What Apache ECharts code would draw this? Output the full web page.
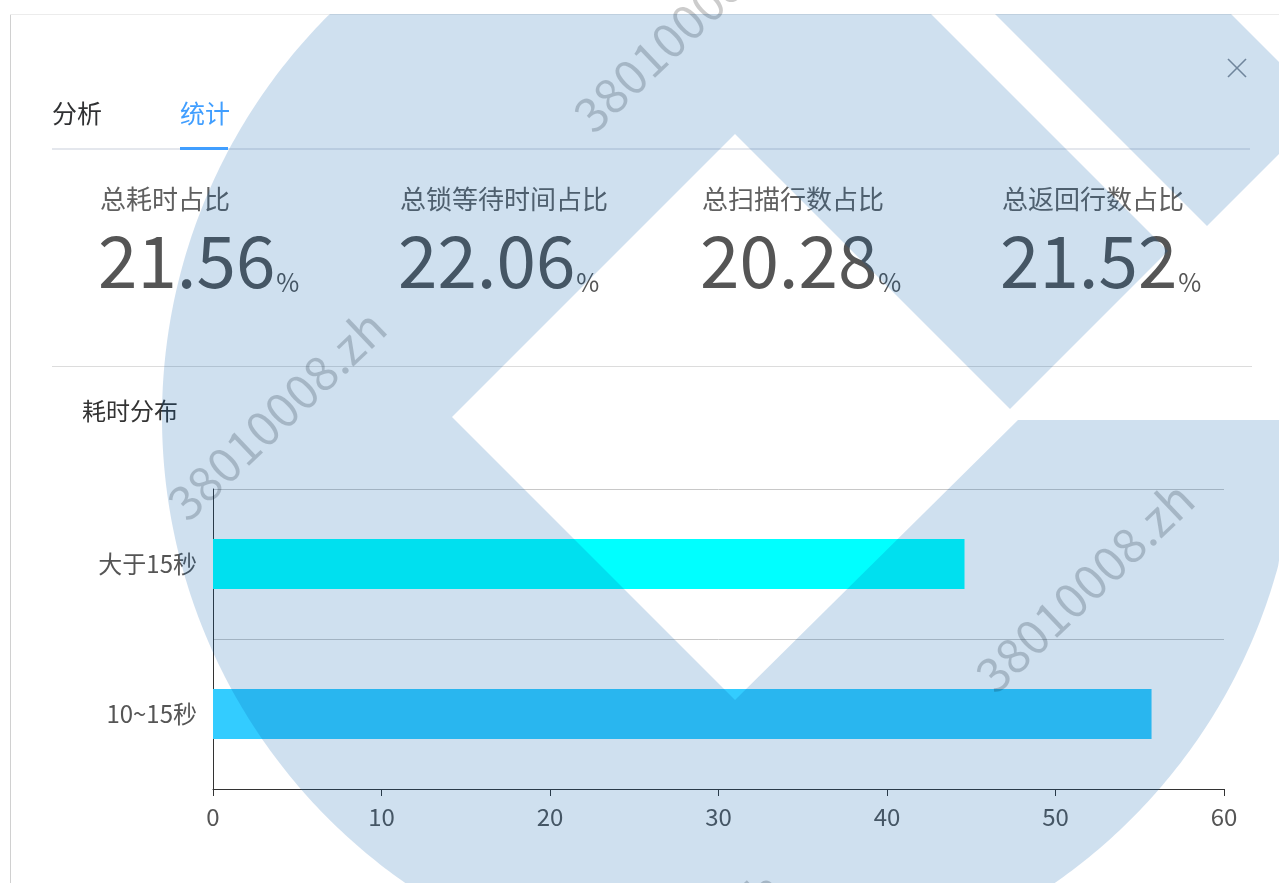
<!DOCTYPE html>
<html><head><meta charset="utf-8">
<script src="https://cdn.jsdelivr.net/npm/echarts@6/dist/echarts.min.js"></script>
<style>html,body{margin:0;padding:0;background:#fff;overflow:hidden}#c{width:1279px;height:883px;}</style>
</head><body><div id="c"></div>
<script>
// ---- data ----
const categories = ['10~15秒', '大于15秒'];
const values = [55.7, 44.6];
const barColors = ['#33ccff', '#00ffff'];
const tabs = ['分析', '统计'];
const statTitles = ['总耗时占比', '总锁等待时间占比', '总扫描行数占比', '总返回行数占比'];
const statValues = ['21.56', '22.06', '20.28', '21.52'];
const statUnit = '%';
const chartTitle = '耗时分布';
const xMin = 0, xMax = 60, xStep = 10;
const watermarkText = '38010008.zh';

// ---- layout / style ----
const CJK = '"Noto Sans CJK SC", "Noto Sans", sans-serif';
const statX = [100, 400, 702, 1002];
const NUM_SIZE = 71, UNIT_SIZE = 25;
const ctx = document.createElement('canvas').getContext('2d');
function measure(t, size) { ctx.font = 'normal normal ' + size + 'px ' + CJK; return ctx.measureText(t).width; }

const g = [];
// dialog edges
g.push({type:'rect', shape:{x:10, y:14, width:1, height:869}, style:{fill:'#d0d0d0'}, silent:true});
g.push({type:'rect', shape:{x:10, y:14, width:1269, height:1}, style:{fill:'#ececec'}, silent:true});
// tabs
const tabX = [52, 180];
tabs.forEach((t, i) => g.push({type:'text', x:tabX[i], y:113, style:{text:t, fontSize:25, fontFamily:CJK, fill: i===1 ? '#409eff' : '#303133', align:'left', verticalAlign:'middle'}}));
g.push({type:'rect', shape:{x:52, y:148, width:1198, height:2}, style:{fill:'#e4e7ed'}});
g.push({type:'rect', shape:{x:180, y:147, width:48, height:3}, style:{fill:'#409eff'}});
// close icon
g.push({type:'line', shape:{x1:1228, y1:59, x2:1246, y2:77}, style:{stroke:'#8a8f99', lineWidth:1.6}});
g.push({type:'line', shape:{x1:1246, y1:59, x2:1228, y2:77}, style:{stroke:'#8a8f99', lineWidth:1.6}});
// stats
statTitles.forEach((t, i) => {
  g.push({type:'text', x:statX[i], y:199, style:{text:t, fontSize:26, fontFamily:CJK, fill:'#606060', align:'left', verticalAlign:'middle'}});
  g.push({type:'text', x:statX[i] - 2, y:261, style:{text:statValues[i], fontSize:NUM_SIZE, fontFamily:CJK, fill:'#555', align:'left', verticalAlign:'middle'}});
  const w = measure(statValues[i], NUM_SIZE);
  g.push({type:'text', x:statX[i] - 2 + w + 1, y:282, style:{text:statUnit, fontSize:UNIT_SIZE, fontFamily:CJK, fill:'#555', align:'left', verticalAlign:'middle'}});
});
g.push({type:'rect', shape:{x:52, y:366, width:1200, height:1}, style:{fill:'#dcdcdc'}});
g.push({type:'text', x:82, y:411, style:{text:chartTitle, fontSize:24, fontFamily:CJK, fill:'#333', align:'left', verticalAlign:'middle'}});

// watermark text (decoration)
[[192,528],[1000,700],[598,140],[590,1090],[-212,915]].forEach(p => g.push({
  type:'text', x:p[0], y:p[1], rotation: 0.76, silent:true, z:90,
  style:{text:watermarkText, fontSize:48, fontFamily:CJK, fill:'rgba(0,0,0,0.2)', align:'left', verticalAlign:'bottom'}
}));
// watermark logo shape (decoration)
(function(){
  const cx = 730, cy = 417, r = 568;
  const pts = [[330,14],[931,14],[1168,251],[1010,409],[735,134],[452,417],[735,700],[1018,420],[1279,420]];
  const t0 = Math.asin((420-cy)/r), t1 = Math.PI + Math.asin((cy-14)/r);
  for (let t = t0; t <= t1; t += 0.01) pts.push([Math.min(1279, cx + r*Math.cos(t)), cy + r*Math.sin(t)]);
  pts.push([330,14]);
  const fill = 'rgba(0,90,170,0.19)';
  g.push({type:'polygon', shape:{points:pts}, style:{fill}, silent:true, z:100});
  g.push({type:'polygon', shape:{points:[[995,14],[1231,14],[1279,62],[1279,154],[1207,226]]}, style:{fill}, silent:true, z:100});
})();

const chart = echarts.init(document.getElementById('c'));
chart.setOption({
  animation:false,
  backgroundColor:'#fff',
  grid:{left:213, right:55, top:489, bottom:94, containLabel:false, outerBoundsMode:'none'},
  xAxis:{type:'value', min:xMin, max:xMax, interval:xStep,
    axisLine:{show:true, lineStyle:{color:'#333', width:1}},
    axisTick:{show:true, length:7, lineStyle:{color:'#333'}},
    axisLabel:{fontSize:24, color:'#555', fontFamily:CJK, margin:16},
    splitLine:{show:false}},
  yAxis:{type:'category', data:categories,
    axisLine:{show:true, lineStyle:{color:'#333', width:1}},
    axisTick:{show:false},
    axisLabel:{fontSize:24, color:'#555', fontFamily:CJK, margin:16},
    splitLine:{show:true, lineStyle:{color:'#c8c8c8', width:1}}},
  series:[{type:'bar', barWidth:50, data: values.map((v, i) => ({value:v, itemStyle:{color:barColors[i]}}))}],
  graphic: g
});
</script></body></html>
